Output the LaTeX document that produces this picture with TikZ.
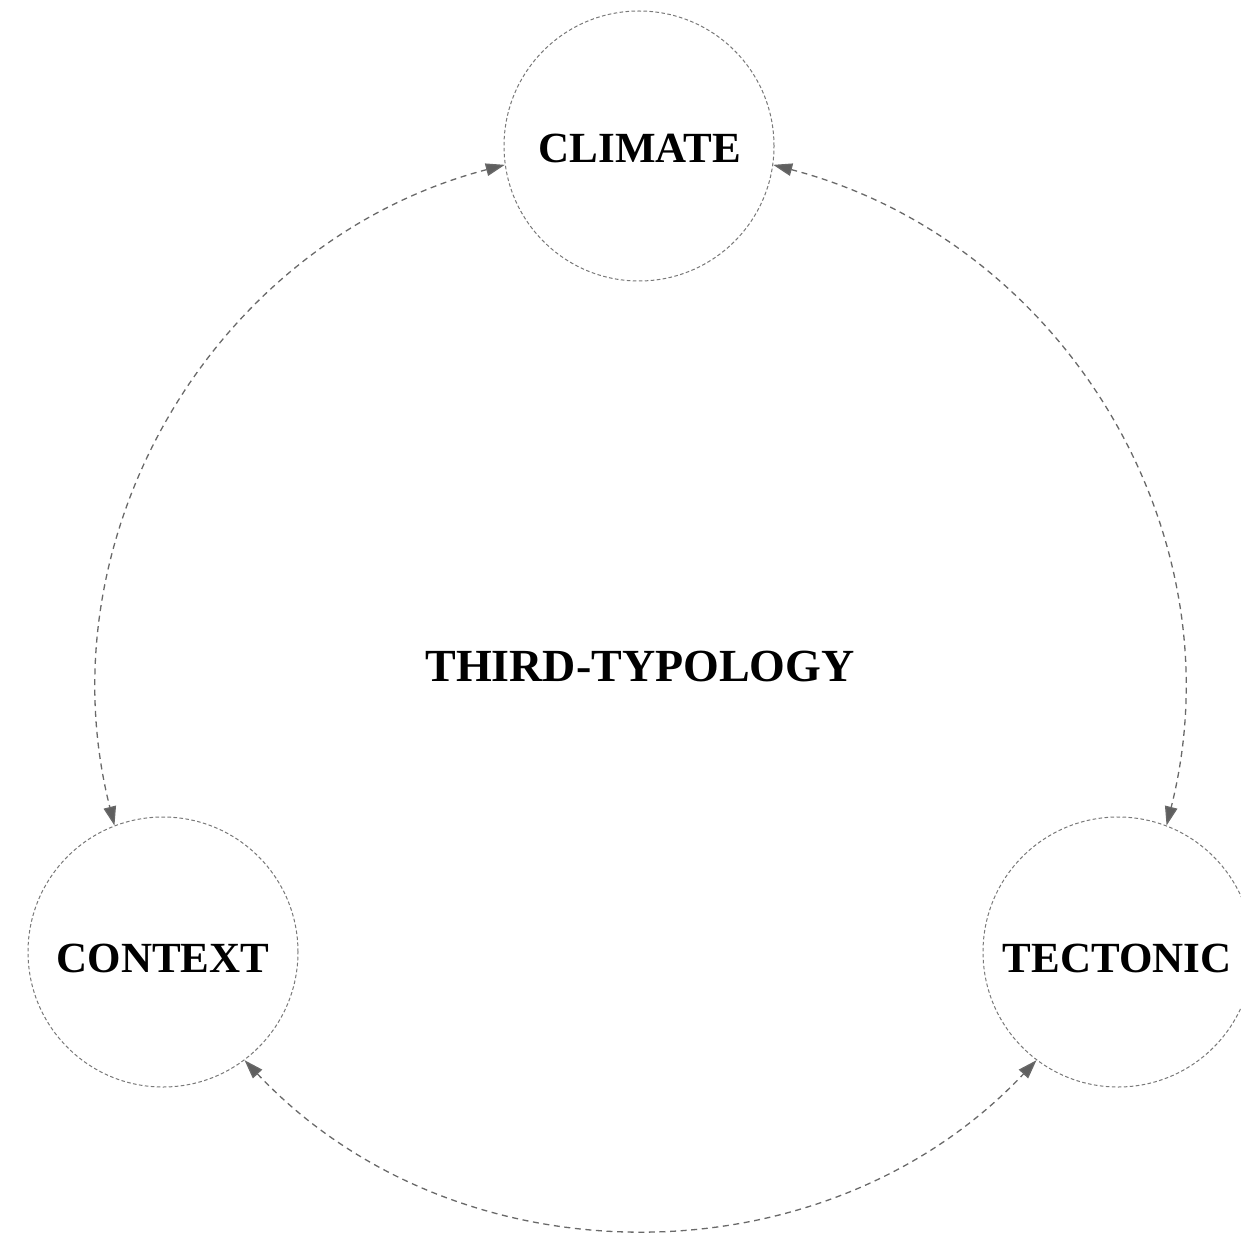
\documentclass[tikz,border=0pt]{standalone}
\usepackage{fontspec}
\setmainfont{Liberation Serif}
\usetikzlibrary{arrows.meta}

\tikzset{
  topic/.style={circle, draw={rgb,255:red,120;green,120;blue,120}, line width=0.5pt,
    dash pattern=on 1.8pt off 1.2pt, minimum size=270*0.5pt, inner sep=0pt},
  topictext/.style={font=\fontsize{21.5}{24}\selectfont\bfseries, inner sep=0pt},
  link/.style={draw={rgb,255:red,105;green,105;blue,105}, line width=0.65pt,
    dash pattern=on 3pt off 2.3pt, looseness=1,
    {Triangle[length=9.5pt,width=6.3pt,fill={rgb,255:red,95;green,95;blue,95}]}-{Triangle[length=9.5pt,width=6.3pt,fill={rgb,255:red,95;green,95;blue,95}]}}
}

\begin{document}
\begin{tikzpicture}[x=0.5pt,y=0.5pt,yscale=-1,xscale=1]

\useasboundingbox (0,0) rectangle (1241,1235);

% circles
\node [topic] (climate) at (639,146) {};
\node [topic] (context) at (163,952) {};
\node [topic] (tectonic) at (1118,952) {};

% Text Node
\node [topictext] (climatetext) at (640,148) {CLIMATE};
% Text Node
\node [topictext] (contexttext) at (163,958) {CONTEXT};
% Text Node
\node [topictext] (tectonictext) at (1117,958) {TECTONIC};
% Text Node
\node [font=\fontsize{23}{26}\selectfont\bfseries, inner sep=0pt] (typology) at (640,666) {THIRD-TYPOLOGY};

% connectors
\draw [link] (climate.188) to[out=165.3,in=255.8] (context.111);
\draw [link] (climate.-8) to[out=14.7,in=-75.8] (tectonic.69);
\draw [link] (context.-53) to[out=46.7,in=133.3] (tectonic.233);

\end{tikzpicture}
\end{document}
